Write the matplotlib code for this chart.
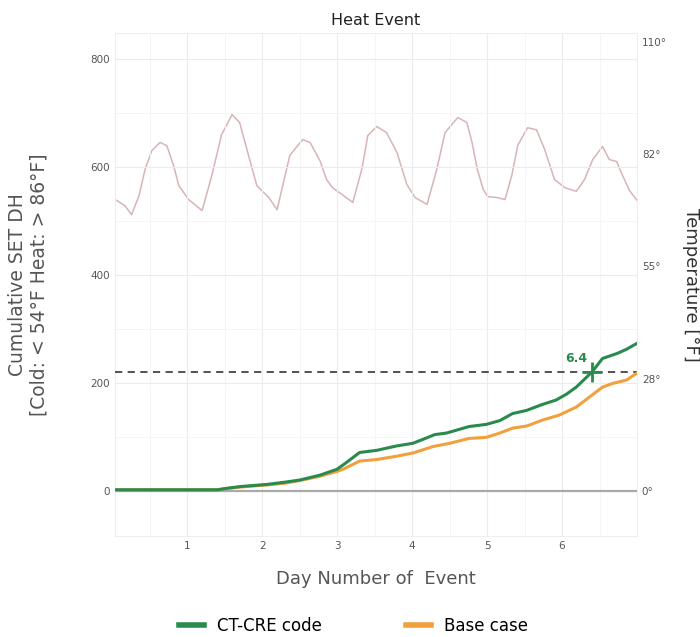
import matplotlib
matplotlib.use("Agg")
import matplotlib.pyplot as plt
from matplotlib.lines import Line2D

# temperature trace (day, deg F)
temp_day = [0.06, 0.17, 0.26, 0.36, 0.44, 0.53, 0.64, 0.73, 0.82, 0.89, 1.02, 1.20, 1.33,
            1.46, 1.60, 1.70, 1.82, 1.93, 2.09, 2.20, 2.37, 2.54, 2.64, 2.77, 2.86, 2.94,
            3.21, 3.33, 3.41, 3.53, 3.66, 3.80, 3.93, 4.04, 4.20, 4.33, 4.44, 4.61, 4.73,
            4.80, 4.87, 4.95, 5.01, 5.13, 5.24, 5.33, 5.41, 5.54, 5.66, 5.77, 5.90, 6.04,
            6.19, 6.30, 6.41, 6.54, 6.63, 6.73, 6.79, 6.90, 7.00]
temp_f = [71.2, 69.9, 67.7, 72.4, 78.8, 83.4, 85.4, 84.6, 79.7, 74.8, 71.4, 68.7, 77.3,
          87.3, 92.2, 90.3, 82.2, 74.8, 71.9, 68.9, 82.2, 86.1, 85.4, 81.0, 76.3, 74.3,
          70.7, 78.8, 87.1, 89.3, 87.8, 82.9, 75.1, 71.9, 70.2, 78.8, 87.8, 91.5, 90.3,
          85.4, 78.8, 73.9, 72.1, 71.9, 71.4, 77.3, 84.7, 89.0, 88.5, 83.6, 76.3, 74.3,
          73.4, 76.3, 81.2, 84.4, 81.2, 80.7, 78.0, 73.6, 71.2]

# cumulative SET degree hours
ct_day = [0.04, 1.40, 1.55, 1.71, 2.07, 2.30, 2.50, 2.77, 3.00, 3.13, 3.30, 3.53, 3.79,
          4.01, 4.14, 4.30, 4.46, 4.76, 4.99, 5.17, 5.34, 5.53, 5.74, 5.92, 6.06, 6.19,
          6.40, 6.54, 6.73, 6.86, 7.00]
ct_dh = [2, 2, 5, 8, 12, 16, 20, 29, 40, 53, 71, 75, 83, 88, 95, 104, 107, 119, 123, 130,
         143, 149, 160, 168, 179, 192, 220, 245, 254, 262, 273]

base_day = [0.04, 1.40, 1.55, 1.71, 2.07, 2.30, 2.50, 2.77, 3.00, 3.08, 3.30, 3.53, 3.79,
            4.01, 4.28, 4.50, 4.76, 4.99, 5.17, 5.34, 5.53, 5.74, 5.96, 6.19, 6.37, 6.54,
            6.68, 6.86, 7.00]
base_dh = [2, 2, 5, 7, 11, 14, 19, 27, 36, 40, 55, 58, 64, 70, 82, 88, 97, 99, 107, 116,
           120, 131, 140, 155, 174, 192, 199, 205, 218]

threshold = 220
cross_day = 6.40
temp_ticks = [0, 27.5, 55, 82.5, 110]
temp_labels = ["0°", "28°", "55°", "82°", "110°"]

green = "#2a8a4e"
orange = "#f2a03d"
k = 7.55  # left units per deg F

fig = plt.figure(figsize=(7, 6.37), dpi=100)
ax = fig.add_axes([0.164, 0.159, 0.746, 0.789])
ylo, yhi = -83, 847

ax.set_xticks(range(1, 7))
ax.set_yticks([0, 200, 400, 600, 800])
ax.set_yticks([100, 300, 500, 700], minor=True)
ax.set_xticks([0.5, 1.5, 2.5, 3.5, 4.5, 5.5, 6.5], minor=True)
ax.set_xlim(0.036, 7.0)
ax.set_ylim(ylo, yhi)
ax.grid(True, color="#ececec", lw=0.8)
ax.grid(True, which="minor", color="#f4f4f4", lw=0.6)
ax.tick_params(length=0, labelsize=7.5, labelcolor="#555555", which="both")
for s in ax.spines.values():
    s.set_color("#eeeeee")

ax.axhline(0, color="#aaaaaa", lw=1.6, zorder=2)
ax.axhline(threshold, color="#444444", lw=1.3, ls=(0, (4, 3)), zorder=3)

ax2 = ax.twinx()
ax2.set_yticks(temp_ticks)
ax2.set_yticklabels(temp_labels)
ax2.set_ylim(ylo / k, yhi / k)
ax2.tick_params(length=0, labelsize=7.5, labelcolor="#555555")
for s in ax2.spines.values():
    s.set_visible(False)
ax2.plot(temp_day, temp_f, color="#d8b4b6", lw=1.1, solid_joinstyle="round")
ax2.set_ylabel("Temperature [°F]", rotation=270, labelpad=24, fontsize=13, color="#333333")

ax.set_zorder(ax2.get_zorder() + 1)
ax.patch.set_visible(False)

ax.plot(base_day, base_dh, color=orange, lw=2.2, zorder=4)
ax.plot(ct_day, ct_dh, color=green, lw=2.2, zorder=5)
ax.plot([cross_day], [threshold], marker="+", ms=14, mew=2, color=green, zorder=6)
ax.text(cross_day - 0.06, threshold + 12, "6.4", color=green, fontsize=9,
        fontweight="bold", ha="right", va="bottom")

ax.set_xlabel("Day Number of  Event", fontsize=13, color="#555555", labelpad=14)
ax.set_ylabel("Cumulative SET DH\n[Cold: < 54°F Heat: > 86°F]", fontsize=13.5,
              color="#555555", labelpad=30)
ax.set_title("Heat Event", fontsize=11.5, color="#222222", pad=6)

handles = [Line2D([], [], color=green, lw=4), Line2D([], [], color=orange, lw=4)]
fig.legend(handles, ["CT-CRE code", "Base case"], loc="lower center",
           bbox_to_anchor=(0.505, -0.02), ncol=2, frameon=False, fontsize=12,
           columnspacing=5, handlelength=1.5)

fig.savefig("out.png", dpi=100)
